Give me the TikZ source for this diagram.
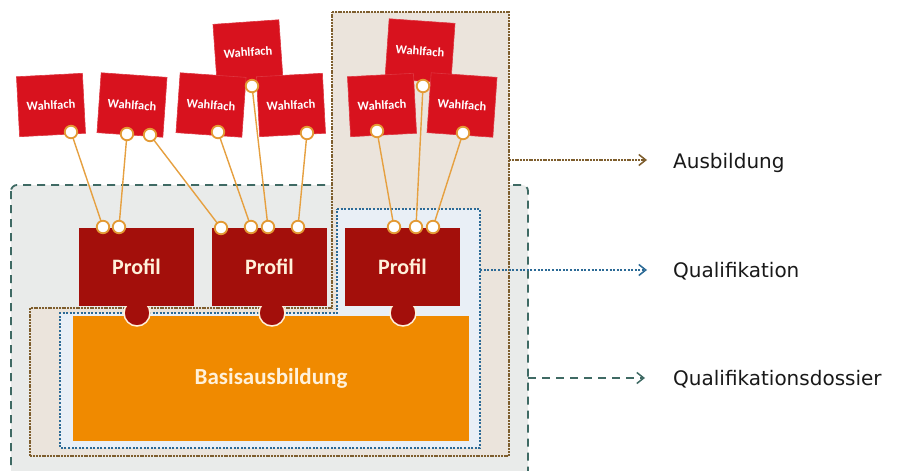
\documentclass[tikz,border=0pt]{standalone}
\usepackage{fontspec}
\setmainfont{DejaVu Sans}
\newfontfamily\cardfont{Carlito}
\usetikzlibrary{arrows.meta}

\definecolor{wahlred}{HTML}{D8121E}
\definecolor{profred}{HTML}{A30F0B}
\definecolor{basisorange}{HTML}{F08A00}
\definecolor{dossierfill}{HTML}{E9EBEA}
\definecolor{dossierline}{HTML}{3F6A64}
\definecolor{ausbfill}{HTML}{EBE4DC}
\definecolor{ausbline}{HTML}{7E5E2E}
\definecolor{qualfill}{HTML}{E9EFF6}
\definecolor{qualline}{HTML}{2C6A96}
\definecolor{pinline}{HTML}{E39A34}
\definecolor{wireline}{HTML}{E6A040}
\definecolor{creamtext}{HTML}{FFF1DA}

\tikzset{
  wahl/.style={fill=wahlred, draw=wahlred!85!white, line width=0.6,
    minimum width=66, minimum height=60, inner sep=0, text=white,
    font=\cardfont\bfseries\fontsize{12.5}{12.5}\selectfont},
  profilbox/.style={fill=profred, minimum width=115, minimum height=78,
    inner sep=0, text=creamtext,
    font=\cardfont\bfseries\fontsize{22}{22}\selectfont},
  basisbox/.style={fill=basisorange, minimum width=396, minimum height=125,
    inner sep=0, text=creamtext,
    font=\cardfont\bfseries\fontsize{23}{23}\selectfont},
  tab/.style={fill=profred, draw=creamtext, line width=1.5},
  pin/.style={circle, fill=white, draw=pinline, line width=1.8,
    minimum size=12.5, inner sep=0},
  wire/.style={draw=wireline, line width=1.4},
  dossierstyle/.style={draw=dossierline, line width=1.8,
    dash pattern=on 8pt off 6pt},
  ausbstyle/.style={draw=ausbline, line width=2, dash pattern=on 2pt off 0.8pt},
  qualstyle/.style={draw=qualline, line width=2, dash pattern=on 2pt off 1.6pt},
  legend/.style={anchor=west, inner sep=0, text=black!90,
    font=\fontsize{20}{20}\selectfont},
  legendtip/.style={-{Straight Barb[length=7pt,width=11pt,line width=1.5pt]}}
}

\begin{document}
\begin{tikzpicture}[x=1pt,y=-1pt]
\clip (0,0) rectangle (897,471);
\fill[white] (0,0) rectangle (897,471);

% Qualifikationsdossier frame
\fill[dossierfill, rounded corners=6] (11,185) rectangle (528,490);
\draw[dossierstyle, rounded corners=6] (11,185) rectangle (528,490);

% Ausbildung frame (L-shaped)
\fill[ausbfill] (332,12) -- (509,12) -- (509,456) -- (30,456) -- (30,308) -- (332,308) -- cycle;
\draw[ausbstyle] (332,12) -- (509,12) -- (509,456) -- (30,456) -- (30,308) -- (332,308) -- cycle;

% Qualifikation frame (L-shaped)
\fill[qualfill] (337,209) -- (480,209) -- (480,448) -- (60,448) -- (60,313) -- (337,313) -- cycle;
\draw[qualstyle] (337,209) -- (480,209) -- (480,448) -- (60,448) -- (60,313) -- (337,313) -- cycle;

% Basisausbildung
\node[basisbox] (basis) at (271,378.5) {Basisausbildung};

% Profile tabs
\draw[tab] (137,313) circle (13);
\draw[tab] (272,313) circle (13);
\draw[tab] (403,313) circle (13);

% Profile
\node[profilbox] (p1) at (136.5,267) {Profil};
\node[profilbox] (p2) at (269.5,267) {Profil};
\node[profilbox] (p3) at (402.5,267) {Profil};

% Wahlfach cards
\node[wahl, rotate=3]  (w1) at (51,105)  {Wahlfach};
\node[wahl, rotate=-4] (w2) at (132,105) {Wahlfach};
\node[wahl, rotate=4]  (w3) at (248,52)  {Wahlfach};
\node[wahl, rotate=-4] (w4) at (211,105) {Wahlfach};
\node[wahl, rotate=3]  (w5) at (291,105) {Wahlfach};
\node[wahl, rotate=-4] (w6) at (420,51)  {Wahlfach};
\node[wahl, rotate=3]  (w7) at (382,105) {Wahlfach};
\node[wahl, rotate=-4] (w8) at (462,105) {Wahlfach};

% pins on the cards
\coordinate (w1a) at (71,132);
\coordinate (w2a) at (127,134);
\coordinate (w2b) at (150,135);
\coordinate (w3a) at (252,86);
\coordinate (w4a) at (218,132);
\coordinate (w5a) at (307,133);
\coordinate (w6a) at (423,86);
\coordinate (w7a) at (377,131);
\coordinate (w8a) at (463,133);
% pins on the profiles
\coordinate (p1a) at (103,227);
\coordinate (p1b) at (119,227);
\coordinate (p2a) at (221,228);
\coordinate (p2b) at (251,227);
\coordinate (p2c) at (268,227);
\coordinate (p2d) at (298,227);
\coordinate (p3a) at (394,227);
\coordinate (p3b) at (416,227);
\coordinate (p3c) at (433,227);

% wires
\draw[wire] (w1a) -- (p1a);
\draw[wire] (w2a) -- (p1b);
\draw[wire] (w2b) -- (p2a);
\draw[wire] (w4a) -- (p2b);
\draw[wire] (w3a) -- (p2c);
\draw[wire] (w5a) -- (p2d);
\draw[wire] (w7a) -- (p3a);
\draw[wire] (w6a) -- (p3b);
\draw[wire] (w8a) -- (p3c);

\foreach \p in {w1a,w2a,w2b,w3a,w4a,w5a,w6a,w7a,w8a,p1a,p1b,p2a,p2b,p2c,p2d,p3a,p3b,p3c}
  \node[pin] at (\p) {};

% legend
\coordinate (ausbout) at (509,160);
\coordinate (qualout) at (480,270);
\coordinate (dossout) at (528,378);
\node[legend] (ausblbl) at (673,163) {Ausbildung};
\node[legend] (quallbl) at (673,271) {Qualifikation};
\node[legend] (dosslbl) at (673,379) {Qualifikationsdossier};
\draw[ausbstyle, legendtip] (ausbout) -- ([xshift=-26pt]ausbout -| ausblbl.west);
\draw[qualstyle, legendtip] (qualout) -- ([xshift=-26pt]qualout -| quallbl.west);
\draw[dossierstyle, legendtip] (dossout) -- ([xshift=-28pt]dossout -| dosslbl.west);
\end{tikzpicture}
\end{document}
